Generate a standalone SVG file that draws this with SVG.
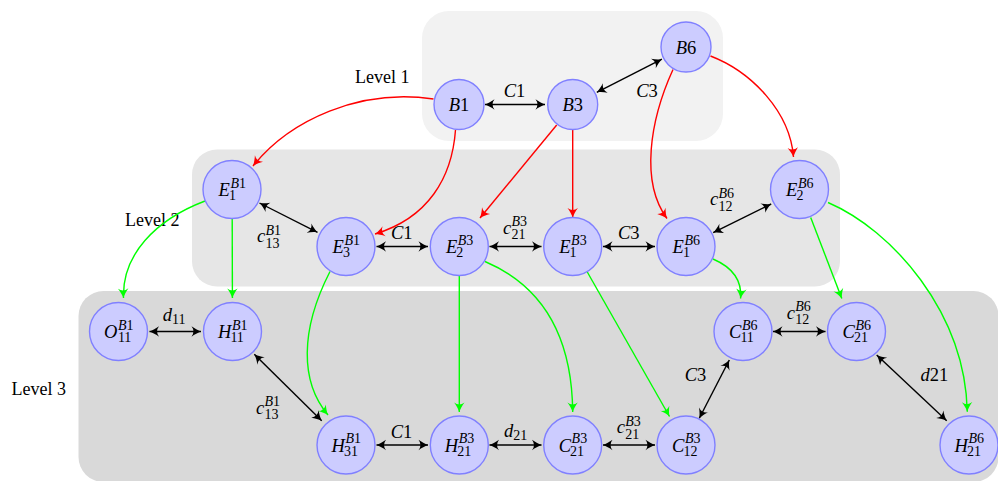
<svg xmlns="http://www.w3.org/2000/svg" width="998" height="481" viewBox="0 0 998 481">
<style>
.bg1{fill:#f2f2f2}.bg2{fill:#e6e6e6}.bg3{fill:#d9d9d9}
.nd circle{fill:#ccccff;stroke:#8080ff;stroke-width:1.4}
text{font-family:"Liberation Serif","Times New Roman",serif;fill:#000}
.m{font-size:18.5px;font-style:italic}
.t{font-size:18.5px}
.s{font-size:14px}
.i{font-style:italic}
.lv{font-size:18px}
.red{stroke:#ff0000;fill:none;stroke-width:1.4;marker-end:url(#ar)}
.grn{stroke:#00ff00;fill:none;stroke-width:1.4;marker-end:url(#ag)}
.blk{stroke:#000;fill:none;stroke-width:1.4;marker-start:url(#ak);marker-end:url(#ak)}
</style>
<defs>
<marker id="ak" viewBox="-10 -6 11 12" refX="0" refY="0" markerWidth="11" markerHeight="12" markerUnits="userSpaceOnUse" orient="auto-start-reverse"><path d="M0,0 C-3,-1 -6.5,-3 -9.5,-5.2 Q-5.5,0 -9.5,5.2 C-6.5,3 -3,1 0,0 Z" fill="#000"/></marker>
<marker id="ar" viewBox="-10 -6 11 12" refX="0" refY="0" markerWidth="11" markerHeight="12" markerUnits="userSpaceOnUse" orient="auto"><path d="M0,0 C-3,-1 -6.5,-3 -9.5,-5.2 Q-5.5,0 -9.5,5.2 C-6.5,3 -3,1 0,0 Z" fill="#ff0000"/></marker>
<marker id="ag" viewBox="-10 -6 11 12" refX="0" refY="0" markerWidth="11" markerHeight="12" markerUnits="userSpaceOnUse" orient="auto"><path d="M0,0 C-3,-1 -6.5,-3 -9.5,-5.2 Q-5.5,0 -9.5,5.2 C-6.5,3 -3,1 0,0 Z" fill="#00ff00"/></marker>
</defs>

<g id="backgrounds">
<rect class="bg1" x="422" y="11" width="301" height="130" rx="27"/>
<rect class="bg2" x="192" y="149.5" width="648" height="137" rx="25"/>
<rect class="bg3" x="78.5" y="291" width="920" height="191" rx="25"/>
</g>

<g id="level-labels">
<text class="lv" x="355" y="83">Level 1</text>
<text class="lv" x="125" y="225.5">Level 2</text>
<text class="lv" x="11.5" y="395">Level 3</text>
</g>

<g id="connectors">
<path class="red" d="M433.5,99 C360,88 290,120 253,166"/>
<path class="red" d="M455.5,130 C452,178 428,218 375,234"/>
<path class="red" d="M556.7,125 L480,218"/>
<path class="red" d="M572.7,129.5 L572.7,217.5"/>
<path class="red" d="M673,69.5 C650,120 640,182 667,218.5"/>
<path class="red" d="M710.5,56 C752,72 790,112 793.5,157"/>
<path class="grn" d="M205,201 C155,220 122,255 123.5,298"/>
<path class="grn" d="M232.2,218.5 L232.4,298"/>
<path class="grn" d="M330,271.5 C300,330 300,382 328,415"/>
<path class="grn" d="M459.3,275.5 L459.3,412"/>
<path class="grn" d="M485,261.5 C540,285 572,332 572.7,412"/>
<path class="grn" d="M587,271.5 L669.5,416.5"/>
<path class="grn" d="M713,259 C734,268 742,282 740.6,298.5"/>
<path class="grn" d="M810.7,217.5 L841.8,298.5"/>
<path class="grn" d="M828,202.5 C892,230 965,312 967.3,411.7"/>
<path class="blk" d="M485,104.5 L545,104.5"/>
<path class="blk" d="M596.8,92.3 L661.9,59.2"/>
<path class="blk" d="M259.5,203 L317.5,232.3"/>
<path class="blk" d="M376.5,246.5 L428,246.5"/>
<path class="blk" d="M489.5,246.5 L541.5,246.5"/>
<path class="blk" d="M603,246.5 L655,246.5"/>
<path class="blk" d="M713.2,232.6 L771.2,204"/>
<path class="blk" d="M149.5,331.5 L201,331.5"/>
<path class="blk" d="M254.3,354.3 L321.7,420.7"/>
<path class="blk" d="M376.5,445 L428,445"/>
<path class="blk" d="M489.5,445 L541.5,445"/>
<path class="blk" d="M603,445 L655,445"/>
<path class="blk" d="M699.3,418.3 L729.3,360"/>
<path class="blk" d="M773,331.5 L825.5,331.5"/>
<path class="blk" d="M876.7,355 L946.7,420.7"/>
</g>

<g id="edge-labels">
<text class="t" x="514.5" y="97" text-anchor="middle"><tspan class="i">C</tspan>1</text>
<text class="t" x="647" y="97" text-anchor="middle"><tspan class="i">C</tspan>3</text>
<text class="m" x="257" y="242">c</text><text class="s" x="265.5" y="234.5"><tspan class="i">B</tspan>1</text><text class="s" x="265.5" y="247.5">13</text>
<text class="t" x="401.7" y="238.5" text-anchor="middle"><tspan class="i">C</tspan>1</text>
<text class="m" x="503" y="233.7">c</text><text class="s" x="511.5" y="226.2"><tspan class="i">B</tspan>3</text><text class="s" x="511.5" y="239.2">21</text>
<text class="t" x="628.7" y="239.3" text-anchor="middle"><tspan class="i">C</tspan>3</text>
<text class="m" x="710" y="205.3">c</text><text class="s" x="718.5" y="197.8"><tspan class="i">B</tspan>6</text><text class="s" x="718.5" y="210.8">12</text>
<text class="m" x="162.7" y="321">d</text><text class="s" x="172" y="324">11</text>
<text class="m" x="256" y="413.5">c</text><text class="s" x="264.5" y="406"><tspan class="i">B</tspan>1</text><text class="s" x="264.5" y="418.5">13</text>
<text class="t" x="401.5" y="437.7" text-anchor="middle"><tspan class="i">C</tspan>1</text>
<text class="m" x="504" y="436.5">d</text><text class="s" x="513.3" y="439.5">21</text>
<text class="m" x="616.7" y="433">c</text><text class="s" x="625.2" y="425.5"><tspan class="i">B</tspan>3</text><text class="s" x="625.2" y="438.5">21</text>
<text class="t" x="695.5" y="380.7" text-anchor="middle"><tspan class="i">C</tspan>3</text>
<text class="m" x="786.7" y="318.7">c</text><text class="s" x="795.2" y="311.2"><tspan class="i">B</tspan>6</text><text class="s" x="795.2" y="324.2">12</text>
<text class="t" x="934.3" y="380.7" text-anchor="middle"><tspan class="i">d</tspan>21</text>
</g>

<g id="B1" class="nd"><circle cx="459" cy="104.5" r="25"/><text class="t" x="459" y="111" text-anchor="middle"><tspan class="i">B</tspan>1</text></g>
<g id="B3" class="nd"><circle cx="572.7" cy="104.5" r="25"/><text class="t" x="572.7" y="111" text-anchor="middle"><tspan class="i">B</tspan>3</text></g>
<g id="B6" class="nd"><circle cx="686" cy="47" r="25"/><text class="t" x="686" y="53.5" text-anchor="middle"><tspan class="i">B</tspan>6</text></g>

<g id="E1B1" class="nd"><circle cx="232" cy="189.5" r="29"/><text class="m" x="218.6" y="196">E</text><text class="s" x="230.4" y="187.7"><tspan class="i">B</tspan>1</text><text class="s" x="228.9" y="200.3">1</text></g>
<g id="E3B1" class="nd"><circle cx="346" cy="246.5" r="29"/><text class="m" x="332.6" y="253">E</text><text class="s" x="344.4" y="244.7"><tspan class="i">B</tspan>1</text><text class="s" x="342.9" y="257.3">3</text></g>
<g id="E2B3" class="nd"><circle cx="459.3" cy="246.5" r="29"/><text class="m" x="445.9" y="253">E</text><text class="s" x="457.7" y="244.7"><tspan class="i">B</tspan>3</text><text class="s" x="456.2" y="257.3">2</text></g>
<g id="E1B3" class="nd"><circle cx="572.7" cy="246.5" r="29"/><text class="m" x="559.3" y="253">E</text><text class="s" x="571.1" y="244.7"><tspan class="i">B</tspan>3</text><text class="s" x="569.6" y="257.3">1</text></g>
<g id="E1B6" class="nd"><circle cx="686" cy="246.5" r="29"/><text class="m" x="672.6" y="253">E</text><text class="s" x="684.4" y="244.7"><tspan class="i">B</tspan>6</text><text class="s" x="682.9" y="257.3">1</text></g>
<g id="E2B6" class="nd"><circle cx="799.5" cy="189.5" r="29"/><text class="m" x="786.1" y="196">E</text><text class="s" x="797.9" y="187.7"><tspan class="i">B</tspan>6</text><text class="s" x="796.4" y="200.3">2</text></g>

<g id="O11B1" class="nd"><circle cx="118.5" cy="331.5" r="29"/><text class="m" x="104" y="338">O</text><text class="s" x="117.9" y="329.7"><tspan class="i">B</tspan>1</text><text class="s" x="117.9" y="342.3">11</text></g>
<g id="H11B1" class="nd"><circle cx="232.5" cy="331.5" r="29"/><text class="m" x="218" y="338">H</text><text class="s" x="231.9" y="329.7"><tspan class="i">B</tspan>1</text><text class="s" x="230.4" y="342.3">11</text></g>
<g id="H31B1" class="nd"><circle cx="346" cy="445" r="29"/><text class="m" x="331.5" y="451.5">H</text><text class="s" x="345.4" y="443.2"><tspan class="i">B</tspan>1</text><text class="s" x="343.9" y="455.8">31</text></g>
<g id="H21B3" class="nd"><circle cx="459.3" cy="445" r="29"/><text class="m" x="444.8" y="451.5">H</text><text class="s" x="458.7" y="443.2"><tspan class="i">B</tspan>3</text><text class="s" x="457.2" y="455.8">21</text></g>
<g id="C21B3" class="nd"><circle cx="572.7" cy="445" r="29"/><text class="m" x="558.8" y="451.5">C</text><text class="s" x="571.6" y="443.2"><tspan class="i">B</tspan>3</text><text class="s" x="570.1" y="455.8">21</text></g>
<g id="C12B3" class="nd"><circle cx="686" cy="445" r="29"/><text class="m" x="672.1" y="451.5">C</text><text class="s" x="684.9" y="443.2"><tspan class="i">B</tspan>3</text><text class="s" x="683.4" y="455.8">12</text></g>
<g id="C11B6" class="nd"><circle cx="743" cy="331.5" r="29"/><text class="m" x="729.1" y="338">C</text><text class="s" x="741.9" y="329.7"><tspan class="i">B</tspan>6</text><text class="s" x="740.4" y="342.3">11</text></g>
<g id="C21B6" class="nd"><circle cx="856.5" cy="331.5" r="29"/><text class="m" x="842.6" y="338">C</text><text class="s" x="855.4" y="329.7"><tspan class="i">B</tspan>6</text><text class="s" x="853.9" y="342.3">21</text></g>
<g id="H21B6" class="nd"><circle cx="969" cy="445" r="29"/><text class="m" x="954.5" y="451.5">H</text><text class="s" x="968.4" y="443.2"><tspan class="i">B</tspan>6</text><text class="s" x="966.9" y="455.8">21</text></g>
</svg>
